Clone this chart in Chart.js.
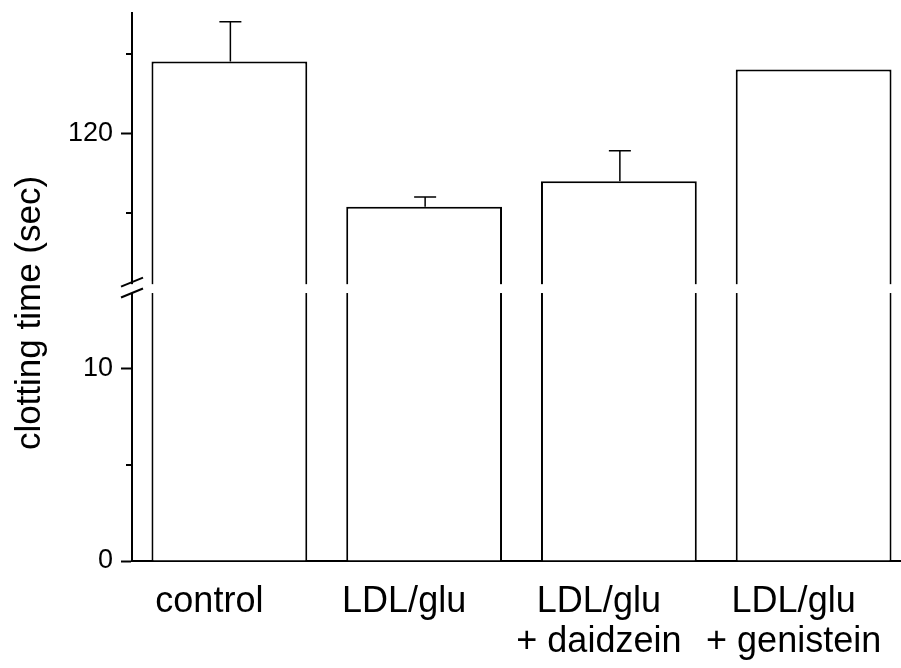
<!DOCTYPE html>
<html>
<head>
<meta charset="utf-8">
<script src="https://cdn.jsdelivr.net/npm/chart.js@4.4.1/dist/chart.umd.min.js"></script>
<style>
  html, body { margin: 0; padding: 0; background: #fff; overflow: hidden; }
  #wrap { position: relative; width: 911px; height: 668px; }
</style>
</head>
<body>
<div id="wrap"><canvas id="clotChart"></canvas></div>
<script>
// categories + values (upper part of broken axis)
const categories = ['control', 'LDL/glu', ['LDL/glu', '+ daidzein'], ['LDL/glu', '+ genistein']];
const clottingTime = [124.5, 115.4, 117.0, 124.0];
const clottingErr = [2.5, 0.6, 1.9, 0];
const yTickValues = [0, 10, 120];
const yMinorTicks = [5, 115, 125];

// broken y axis: 0..LOW_MAX in the lower part, HIGH_MIN..HIGH_MAX in the upper part
const LOW_MAX = 13.9;
const HIGH_MIN = 110.6;
const HIGH_MAX = 127.55;
const LOW_SHARE = 0.489;
const GAP_SHARE = 0.018;

const FONT = '"Liberation Sans", Arial, Helvetica, sans-serif';

class BrokenLinearScale extends Chart.LinearScale {
  static id = 'brokenLinear';
  static defaults = {};
  determineDataLimits() {
    this.min = 0;
    this.max = HIGH_MAX;
  }
  buildTicks() {
    return yTickValues.map(v => ({ value: v }));
  }
  getPixelForValue(value) {
    const h = this.bottom - this.top;
    const lowH = h * LOW_SHARE, gapH = h * GAP_SHARE, highH = h - lowH - gapH;
    if (value <= LOW_MAX) return this.bottom - (value / LOW_MAX) * lowH;
    if (value >= HIGH_MIN) return this.top + (HIGH_MAX - value) / (HIGH_MAX - HIGH_MIN) * highH;
    return this.bottom - lowH - (value - LOW_MAX) / (HIGH_MIN - LOW_MAX) * gapH;
  }
  getValueForPixel(pixel) {
    const h = this.bottom - this.top;
    const lowH = h * LOW_SHARE, gapH = h * GAP_SHARE, highH = h - lowH - gapH;
    const fromBottom = this.bottom - pixel;
    if (fromBottom <= lowH) return fromBottom / lowH * LOW_MAX;
    if (fromBottom >= lowH + gapH) return HIGH_MAX - (pixel - this.top) / highH * (HIGH_MAX - HIGH_MIN);
    return LOW_MAX + (fromBottom - lowH) / gapH * (HIGH_MIN - LOW_MAX);
  }
}
Chart.register(BrokenLinearScale);

const errorBars = {
  id: 'errorBars',
  afterDatasetsDraw(chart) {
    const { ctx } = chart;
    const y = chart.scales.y;
    const meta = chart.getDatasetMeta(0);
    ctx.save();
    ctx.strokeStyle = '#000';
    ctx.lineWidth = 1.5;
    meta.data.forEach((bar, i) => {
      if (!clottingErr[i]) return;
      const top = y.getPixelForValue(clottingTime[i] + clottingErr[i]);
      ctx.beginPath();
      ctx.moveTo(bar.x + 1, bar.y);
      ctx.lineTo(bar.x + 1, top);
      ctx.moveTo(bar.x - 10, top);
      ctx.lineTo(bar.x + 12, top);
      ctx.stroke();
    });
    ctx.restore();
  }
};

const axisBreak = {
  id: 'axisBreak',
  afterDraw(chart) {
    const { ctx, chartArea } = chart;
    const y = chart.scales.y;
    const gTop = y.getPixelForValue(HIGH_MIN);
    const gBot = y.getPixelForValue(LOW_MAX);
    const ax = y.right;
    ctx.save();
    ctx.fillStyle = '#fff';
    ctx.fillRect(ax - 3, gTop + 1, chart.width, gBot - gTop - 1);
    ctx.strokeStyle = '#000';
    ctx.lineWidth = 2;
    [gTop - 1, gBot].forEach(py => {
      ctx.beginPath();
      ctx.moveTo(ax - 11, py + 4.5);
      ctx.lineTo(ax + 11, py - 4.5);
      ctx.stroke();
    });
    // minor ticks
    yMinorTicks.forEach(v => {
      const py = Math.round(y.getPixelForValue(v));
      ctx.beginPath();
      ctx.moveTo(ax - 6, py);
      ctx.lineTo(ax, py);
      ctx.stroke();
    });
    // y title
    ctx.translate(chartArea.left - 102, chartArea.top + 300);
    ctx.rotate(-Math.PI / 2);
    ctx.fillStyle = '#000';
    ctx.font = '35px ' + FONT;
    ctx.textAlign = 'center';
    ctx.textBaseline = 'middle';
    ctx.fillText('clotting time (sec)', 0, 0);
    ctx.restore();
  }
};

const ctx = document.getElementById('clotChart').getContext('2d');
new Chart(ctx, {
  type: 'bar',
  data: {
    labels: categories,
    datasets: [{
      data: clottingTime,
      backgroundColor: '#fff',
      borderColor: '#000',
      borderWidth: 2,
      borderSkipped: 'start',
      categoryPercentage: 1,
      barPercentage: 0.8
    }]
  },
  options: {
    responsive: true,
    maintainAspectRatio: false,
    animation: false,
    layout: { padding: { top: 13, left: 0, right: 0, bottom: 0 } },
    plugins: {
      legend: { display: false },
      tooltip: { enabled: false }
    },
    scales: {
      x: {
        type: 'category',
        offset: true,
        grid: { display: false },
        border: { display: true, color: '#000', width: 2 },
        ticks: {
          color: '#000',
          font: { family: FONT, size: 36, lineHeight: 1.11 },
          padding: 13,
          labelOffset: -20,
          maxRotation: 0,
          autoSkip: false
        },
        afterFit(s) { s.height = 107; s.paddingLeft = 0; s.paddingRight = 0; }
      },
      y: {
        type: 'brokenLinear',
        grid: { display: true, drawOnChartArea: false, drawTicks: true, tickLength: 11, tickColor: '#000', tickWidth: 2 },
        border: { display: true, color: '#000', width: 2 },
        ticks: {
          color: '#000',
          font: { family: FONT, size: 27 },
          padding: 8,
          callback: v => String(v)
        },
        afterFit(s) { s.width = 132; s.paddingTop = 0; s.paddingBottom = 0; }
      }
    }
  },
  plugins: [errorBars, axisBreak]
});
</script>
</body>
</html>
